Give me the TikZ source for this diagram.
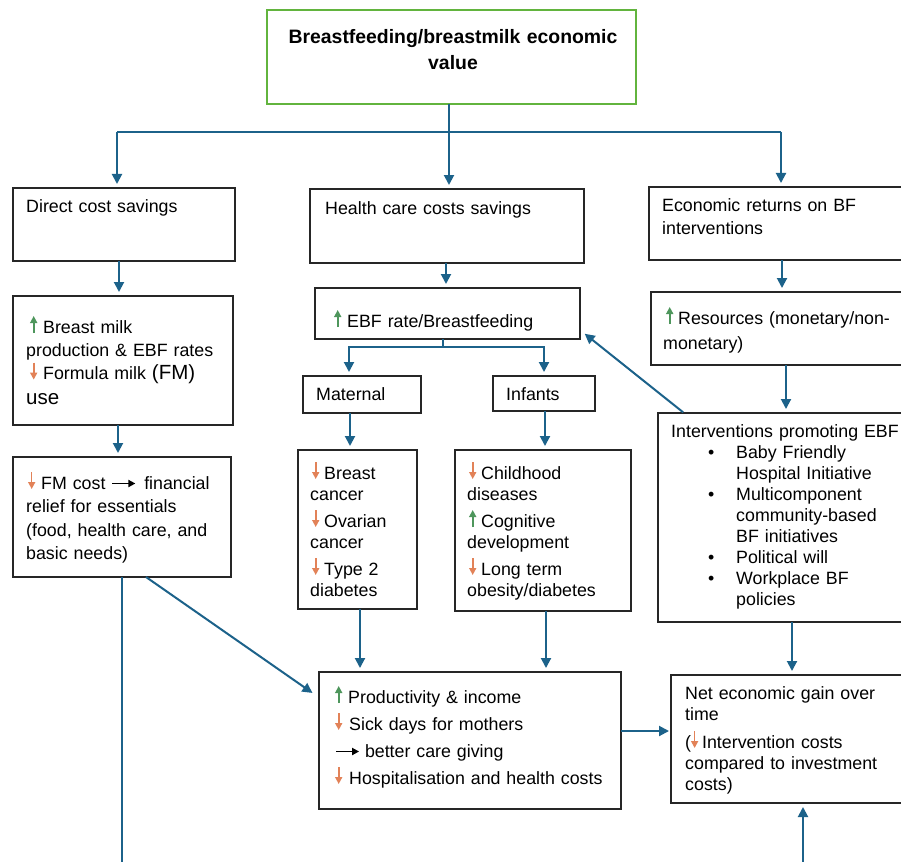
\documentclass[tikz,border=0pt]{standalone}
\usepackage{fontspec}
\setmainfont{Liberation Sans}
\usetikzlibrary{arrows.meta,calc}
\definecolor{conn}{RGB}{28,98,138}
\definecolor{upg}{RGB}{78,150,92}
\definecolor{dnc}{RGB}{226,130,88}
\definecolor{tgreen}{RGB}{98,180,62}
\newcommand\upa{\tikz[baseline=0pt]\draw[upg,line width=1.6pt,-{Triangle[length=7pt,width=7pt]}](0pt,0pt)--(0pt,17pt);}
\newcommand\dna{\tikz[baseline=0pt]\draw[dnc,line width=1.6pt,-{Triangle[length=7pt,width=7pt]}](0pt,17pt)--(0pt,0pt);}
\newcommand\rta{\tikz[baseline=0pt]\draw[black,line width=1.8pt,-{Triangle[length=7pt,width=7pt]}](0pt,5.5pt)--(23pt,5.5pt);}
\tikzset{
  box/.style={draw=black!85, line width=1.1pt, anchor=north west, inner sep=0pt, outer sep=0pt},
  txt/.style={anchor=base west, inner sep=0pt, align=left, text width=300pt, font=\fontsize{17.8}{#1}\selectfont},
  arr/.style={draw=conn, line width=2pt, -{Triangle[length=10pt,width=10pt]}, shorten >=4pt},
  ln/.style={draw=conn, line width=2pt},
}
\begin{document}
\begin{tikzpicture}[x=1pt,y=-1pt]
\useasboundingbox[fill=white] (0,0) rectangle (901,861);
% boxes
\node[box, draw=tgreen, line width=2pt, minimum width=369pt, minimum height=94pt] (title) at (267,10) {};
\node[box, minimum width=222pt, minimum height=73pt] (b1) at (13,188) {};
\node[box, minimum width=274pt, minimum height=74pt] (b2) at (310,189) {};
\node[box, minimum width=261pt, minimum height=73pt] (b3) at (649,187) {};
\node[box, minimum width=220pt, minimum height=129pt] (b4) at (13,296) {};
\node[box, minimum width=218pt, minimum height=120pt] (b5) at (13,457) {};
\node[box, minimum width=265pt, minimum height=51pt] (ebf) at (315,288) {};
\node[box, minimum width=118pt, minimum height=37pt] (mat) at (303,376) {};
\node[box, minimum width=102pt, minimum height=35pt] (inf) at (493,376) {};
\node[box, minimum width=119pt, minimum height=159pt] (md) at (298,450) {};
\node[box, minimum width=176pt, minimum height=161pt] (id) at (455,450) {};
\node[box, minimum width=302pt, minimum height=137pt] (prod) at (319,672) {};
\node[box, minimum width=259pt, minimum height=73pt] (res) at (651,292) {};
\node[box, minimum width=252pt, minimum height=209pt] (int) at (658,413) {};
\node[box, minimum width=239pt, minimum height=128pt] (net) at (671,675) {};
% texts
\node[anchor=base, inner sep=0pt, text width=380pt, align=center, font=\bfseries\fontsize{19.4}{25.5}\selectfont] (t0) at (453,44) {Breastfeeding/breastmilk economic\\value};
\node[txt=23] (t1) at (26,212) {Direct cost savings};
\node[txt=23] (t2) at (325,214) {Health care costs savings};
\node[txt=23] (t3) at (662,211) {Economic returns on BF\\interventions};
\node[txt=23.3] (t4) at (26,333) {\hspace*{4pt}\upa\hspace{6pt}Breast milk\\production \& EBF rates\\\hspace*{4pt}\dna\hspace{6pt}Formula milk {\fontsize{20.5}{24}\selectfont(FM)}\\[2pt]{\fontsize{20.5}{24}\selectfont use}};
\node[txt=23.5] (t5) at (26,489) {\hspace*{2pt}\dna\hspace{6pt}FM cost\hspace{6pt}\rta\hspace{8pt}financial\\relief for essentials\\(food, health care, and\\basic needs)};
\node[txt=23] (t6) at (334,327) {\upa\hspace{6pt}EBF rate/Breastfeeding};
\node[txt=23] (t7) at (316,400) {Maternal};
\node[txt=23] (t8) at (506,400) {Infants};
\node[txt=21.5] (t9) at (310,479) {\hspace*{2pt}\dna\hspace{5pt}Breast\\cancer\\[5pt]\hspace*{2pt}\dna\hspace{5pt}Ovarian\\cancer\\[5pt]\hspace*{2pt}\dna\hspace{5pt}Type 2\\diabetes};
\node[txt=21.5] (t10) at (467,479) {\hspace*{2pt}\dna\hspace{5pt}Childhood\\diseases\\[5pt]\hspace*{2pt}\upa\hspace{5pt}Cognitive\\development\\[5pt]\hspace*{2pt}\dna\hspace{5pt}Long term\\obesity/diabetes};
\node[txt=27] (t11) at (335,703) {\upa\hspace{6pt}Productivity \& income\\\dna\hspace{7pt}Sick days for mothers\\\rta\hspace{5pt}better care giving\\\dna\hspace{7pt}Hospitalisation and health costs};
\node[txt=25] (t12) at (663,324) {\hspace*{3pt}\upa\hspace{5pt}Resources (monetary/non-\\monetary)};
\node[txt=21] (t13) at (671,437) {Interventions promoting EBF\\
\hspace*{37pt}\makebox[28pt][l]{\textbullet}Baby Friendly\\
\hspace*{65pt}Hospital Initiative\\
\hspace*{37pt}\makebox[28pt][l]{\textbullet}Multicomponent\\
\hspace*{65pt}community-based\\
\hspace*{65pt}BF initiatives\\
\hspace*{37pt}\makebox[28pt][l]{\textbullet}Political will\\
\hspace*{37pt}\makebox[28pt][l]{\textbullet}Workplace BF\\
\hspace*{65pt}policies};
\node[txt=21] (t14) at (685,699) {Net economic gain over\\time\\[7pt](\dna\hspace{4pt}Intervention costs\\compared to investment\\costs)};
% connectors
\coordinate (jt) at (449,132);
\coordinate (jtl) at (117,132);
\coordinate (jtr) at (781,132);
\draw[ln] ([xshift=-2.5pt]title.south) -- (jt);
\draw[ln] (jtl) -- (jtr);
\draw[arr] (jtl) -- (jtl |- b1.north);
\draw[arr] (jt) -- (jt |- b2.north);
\draw[arr] (jtr) -- (jtr |- b3.north);
\draw[arr] ([xshift=-5pt]b1.south) -- ([xshift=-5pt]b1.south |- b4.north);
\draw[arr] ([xshift=-5pt]b4.south) -- ([xshift=-5pt]b4.south |- b5.north);
\coordinate (bl) at (122,880);
\draw[ln] (b5.south) -- (bl);
\draw[arr, shorten >=8pt] ([xshift=24pt]b5.south) -- ([yshift=43pt]prod.west);
\draw[arr] ([xshift=-1pt]b2.south) -- ([xshift=-1pt]b2.south |- ebf.north);
\coordinate (je) at (443,347);
\coordinate (jml) at (349,347);
\coordinate (jmr) at (544,347);
\draw[ln] ([xshift=-4.5pt]ebf.south) -- (je);
\draw[arr] (je) -- (jml) -- (jml |- mat.north);
\draw[arr] (je) -- (jmr) -- (jmr |- inf.north);
\draw[arr] ([xshift=-12pt]mat.south) -- ([xshift=-12pt]mat.south |- md.north);
\draw[arr] ([xshift=1pt]inf.south) -- ([xshift=1pt]inf.south |- id.north);
\draw[arr] ([xshift=2.5pt]md.south) -- ([xshift=2.5pt]md.south |- prod.north);
\draw[arr] ([xshift=3pt]id.south) -- ([xshift=3pt]id.south |- prod.north);
\draw[arr, shorten >=2pt] ([yshift=9.5pt]prod.east) -- ([yshift=9.5pt]prod.east -| net.west);
\draw[arr] ([xshift=2.5pt]b3.south) -- ([xshift=2.5pt]b3.south |- res.north);
\draw[arr] ([xshift=5.5pt]res.south) -- ([xshift=5.5pt]res.south |- int.north);
\draw[arr, shorten >=6pt, shorten <=1pt] ([xshift=26pt]int.north west) -- ([yshift=-16.5pt]ebf.east);
\draw[arr] ([xshift=8pt]int.south) -- ([xshift=8pt]int.south |- net.north);
\coordinate (br) at (803,880);
\draw[arr] (br) -- (br |- net.south);
\end{tikzpicture}
\end{document}
